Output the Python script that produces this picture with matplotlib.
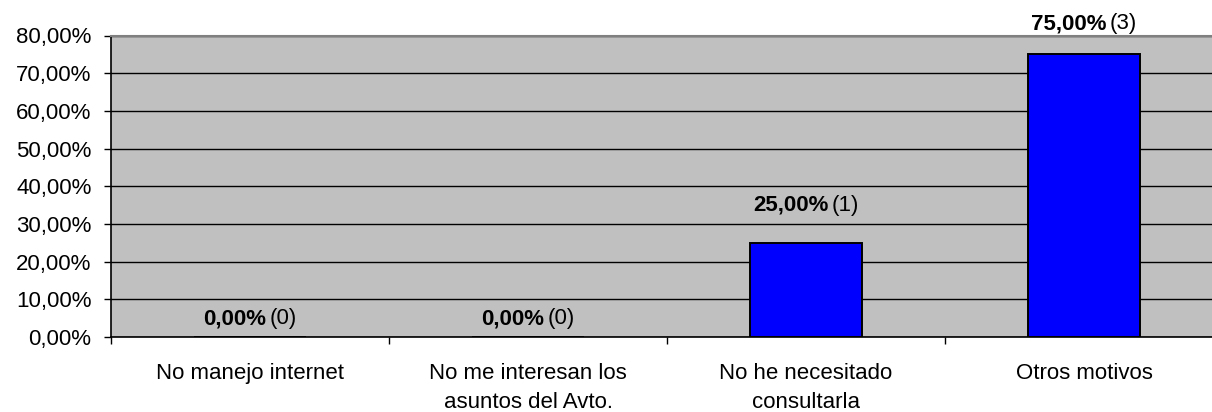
import numpy as np
import matplotlib
matplotlib.use("Agg")
from matplotlib import pyplot as plt
from matplotlib.offsetbox import TextArea, HPacker, AnnotationBbox

categorias = ["No manejo internet", "No me interesan los\nasuntos del Avto.",
              "No he necesitado\nconsultarla", "Otros motivos"]
porcentajes = [0.0, 0.0, 25.0, 75.0]
respuestas = [0, 0, 1, 3]
etiquetas_y = ["0,00%", "10,00%", "20,00%", "30,00%", "40,00%",
               "50,00%", "60,00%", "70,00%", "80,00%"]
# distance of each value label above its bar, in points
separacion = [13, 13, 27, 22]

plt.rcParams['font.family'] = ['Liberation Sans', 'DejaVu Sans']
tam = 16

fig = plt.figure(figsize=(12.12, 4.12), dpi=100)
ax = fig.add_axes([111/1212, 75/412, 1112/1212, 301.5/412])
ax.set_facecolor("#C0C0C0")

x = np.arange(len(categorias))
ax.bar(x, porcentajes, width=0.40, color="#0000FF", edgecolor="black",
       linewidth=1.4, zorder=3)

ax.set_xlim(-0.5, len(categorias) - 0.5)
ax.set_ylim(0, 80)
ax.set_yticks(np.arange(0, 81, 10))
ax.set_yticklabels(etiquetas_y, fontsize=tam)
ax.yaxis.grid(True, color="black", linewidth=1.0, zorder=1)
ax.set_axisbelow(True)

ax.set_xticks(x)
ax.set_xticklabels(categorias, fontsize=tam, linespacing=1.45)
ax.tick_params(axis="x", which="major", length=0, pad=19)
ax.set_xticks(np.arange(-0.5, len(categorias)), minor=True)
ax.tick_params(axis="x", which="minor", length=5, width=1, direction="out")
ax.tick_params(axis="y", length=5, width=1, direction="out", pad=9)

ax.spines["top"].set_color("#808080")
ax.spines["top"].set_linewidth(1.5)
ax.spines["left"].set_linewidth(1.2)
ax.spines["bottom"].set_linewidth(1.2)
ax.spines["right"].set_visible(False)

for xi, p, n, off in zip(x, porcentajes, respuestas, separacion):
    negrita = TextArea(f"{p:.2f}%".replace(".", ","),
                       textprops=dict(fontsize=tam, fontweight="bold"))
    normal = TextArea(f"({n})", textprops=dict(fontsize=tam))
    caja = HPacker(children=[negrita, normal], align="baseline", pad=0, sep=2)
    ab = AnnotationBbox(caja, (xi, p), xybox=(0, off), xycoords="data",
                        boxcoords="offset points", frameon=False,
                        box_alignment=(0.5, 0.5), annotation_clip=False)
    ax.add_artist(ab)

fig.savefig("out.png", dpi=100)
